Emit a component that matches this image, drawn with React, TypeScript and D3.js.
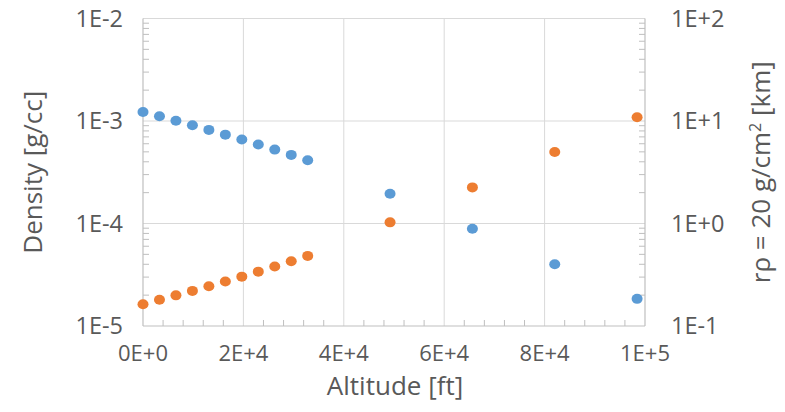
import React from "react";
import * as d3 from "d3";

const altitudes = [0, 3281, 6562, 9843, 13123, 16404, 19685, 22966, 26247, 29528, 32808, 49213, 65617, 82021, 98425];
const density = [1.225e-3, 1.112e-3, 1.007e-3, 9.09e-4, 8.19e-4, 7.36e-4, 6.6e-4, 5.9e-4, 5.26e-4, 4.67e-4, 4.14e-4, 1.95e-4, 8.89e-5, 4.01e-5, 1.84e-5];
const rangeKm = [0.163, 0.18, 0.199, 0.22, 0.244, 0.272, 0.303, 0.339, 0.38, 0.428, 0.483, 1.026, 2.25, 4.99, 10.87];
const xTicks = [0, 20000, 40000, 60000, 80000, 100000];
const xTickLabels = ["0E+0", "2E+4", "4E+4", "6E+4", "8E+4", "1E+5"];
const leftTicks = [1e-5, 1e-4, 1e-3, 1e-2];
const leftTickLabels = ["1E-5", "1E-4", "1E-3", "1E-2"];
const rightTicks = [0.1, 1, 10, 100];
const rightTickLabels = ["1E-1", "1E+0", "1E+1", "1E+2"];

const W = 785, H = 412;
const L = 143, R = 645, T = 18.5, B = 326;
const textColor = "#595959";
const axisColor = "#bfbfbf";
const gridColor = "#d9d9d9";
const font = "'Open Sans', 'Noto Sans', sans-serif";

export default function App() {
  const x = d3.scaleLinear().domain([0, 100000]).range([L, R]);
  const yL = d3.scaleLog().domain([1e-5, 1e-2]).range([B, T]);
  const yR = d3.scaleLog().domain([0.1, 100]).range([B, T]);

  const minorL: number[] = [];
  for (let e = -5; e < -2; e++) for (let m = 2; m <= 9; m++) minorL.push(m * Math.pow(10, e));
  const minorR: number[] = [];
  for (let e = -1; e < 2; e++) for (let m = 2; m <= 9; m++) minorR.push(m * Math.pow(10, e));
  const minorX = d3.range(0, 100001, 4000).filter((v) => v % 20000 !== 0);

  return (
    <svg width={W} height={H} style={{ position: "absolute", left: 0, top: 0, background: "#fff" }}>
      <rect x={0} y={0} width={W} height={H} fill="#fff" />
      {xTicks.slice(1, -1).map((t) => (
        <line key={"gx" + t} x1={x(t)} x2={x(t)} y1={T} y2={B} stroke={gridColor} strokeWidth={1} />
      ))}
      {leftTicks.slice(1, -1).map((t) => (
        <line key={"gy" + t} x1={L} x2={R} y1={yL(t)} y2={yL(t)} stroke={gridColor} strokeWidth={1} />
      ))}
      <line x1={L} x2={R} y1={T} y2={T} stroke={gridColor} strokeWidth={1} />
      <line x1={L} x2={L} y1={T} y2={B} stroke={axisColor} strokeWidth={1.2} />
      <line x1={R} x2={R} y1={T} y2={B} stroke={axisColor} strokeWidth={1.2} />
      <line x1={L} x2={R} y1={B} y2={B} stroke={axisColor} strokeWidth={1.2} />
      {minorL.map((t) => (
        <line key={"ml" + t} x1={L} x2={L + 6} y1={yL(t)} y2={yL(t)} stroke={axisColor} strokeWidth={1} />
      ))}
      {minorR.map((t) => (
        <line key={"mr" + t} x1={R - 6} x2={R} y1={yR(t)} y2={yR(t)} stroke={axisColor} strokeWidth={1} />
      ))}
      {minorX.map((t) => (
        <line key={"mx" + t} x1={x(t)} x2={x(t)} y1={B - 6} y2={B} stroke={axisColor} strokeWidth={1} />
      ))}
      {xTicks.map((t, i) => (
        <text key={"tx" + t} x={x(t)} y={361} textAnchor="middle" fontFamily={font} fontSize={22} fill={textColor}>
          {xTickLabels[i]}
        </text>
      ))}
      {leftTicks.map((t, i) => (
        <text key={"tl" + t} x={123} y={yL(t) + 8} textAnchor="end" fontFamily={font} fontSize={23.5} fill={textColor}>
          {leftTickLabels[i]}
        </text>
      ))}
      {rightTicks.map((t, i) => (
        <text key={"tr" + t} x={671} y={yR(t) + 8} textAnchor="start" fontFamily={font} fontSize={23.5} fill={textColor}>
          {rightTickLabels[i]}
        </text>
      ))}
      <text x={(L + R) / 2 + 1} y={395} textAnchor="middle" fontFamily={font} fontSize={26} fill={textColor}>
        Altitude [ft]
      </text>
      <text transform={`translate(42,${(T + B) / 2}) rotate(-90)`} textAnchor="middle" fontFamily={font} fontSize={26} fill={textColor}>
        Density [g/cc]
      </text>
      <text transform={`translate(770,${(T + B) / 2}) rotate(-90)`} textAnchor="middle" fontFamily={font} fontSize={26} fill={textColor}>
        rρ = 20 g/cm<tspan dy={-9} fontSize={16}>2</tspan><tspan dy={9}> [km]</tspan>
      </text>
      {altitudes.map((a, i) => (
        <ellipse key={"b" + i} cx={x(a)} cy={yL(density[i])} rx={5.5} ry={5} fill="#5b9bd5" />
      ))}
      {altitudes.map((a, i) => (
        <ellipse key={"o" + i} cx={x(a)} cy={yR(rangeKm[i])} rx={5.5} ry={5} fill="#ed7d31" />
      ))}
    </svg>
  );
}
